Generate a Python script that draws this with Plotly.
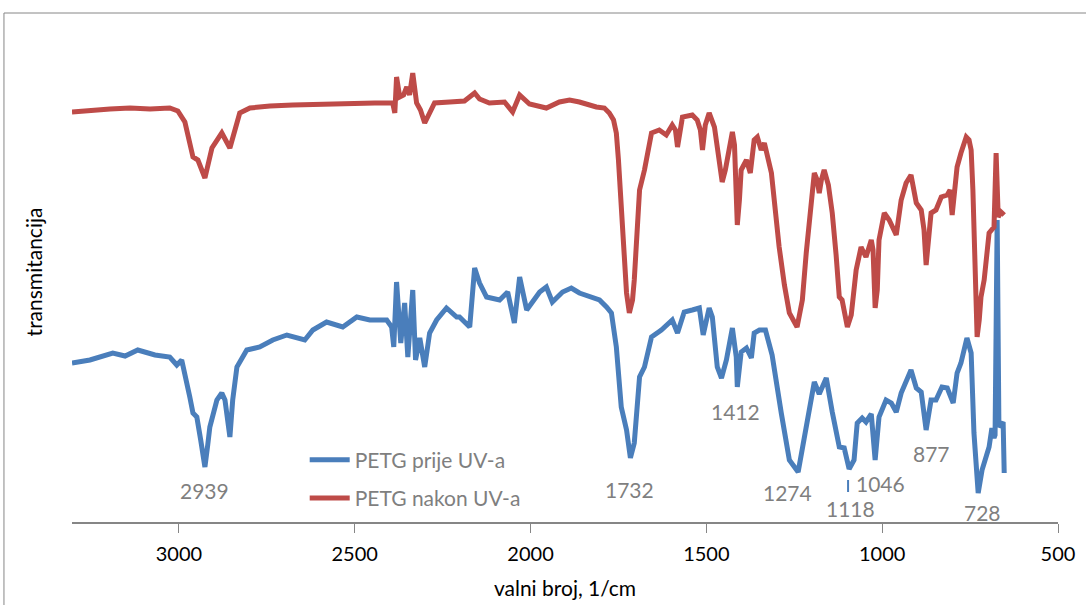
import plotly.graph_objects as go

# ---------------- data (wavenumber 1/cm, transmittance in arbitrary units) ----------------
red_wn = [3304, 3253, 3196, 3139, 3082, 3026, 3003, 2983, 2960, 2946, 2926, 2906, 2878, 2855, 2827,
          2798, 2741, 2676, 2599, 2514, 2443, 2392, 2386, 2381, 2372, 2361, 2352, 2344, 2335, 2324,
          2313, 2301, 2287, 2273, 2230, 2188, 2159, 2145, 2117, 2074, 2051, 2031, 2003, 1955, 1918,
          1889, 1861, 1813, 1790, 1776, 1764, 1756, 1750, 1742, 1733, 1727, 1719, 1710, 1705, 1696,
          1690, 1676, 1656, 1634, 1614, 1597, 1588, 1582, 1574, 1568, 1540, 1526, 1517, 1511, 1503,
          1492, 1477, 1463, 1455, 1446, 1435, 1426, 1420, 1415, 1412, 1406, 1401, 1386, 1375, 1364,
          1355, 1344, 1335, 1315, 1293, 1278, 1264, 1242, 1227, 1216, 1202, 1193, 1185, 1179, 1173,
          1165, 1153, 1142, 1131, 1122, 1114, 1099, 1088, 1074, 1060, 1046, 1031, 1026, 1020, 1014,
          1009, 994, 980, 960, 946, 932, 918, 903, 889, 881, 875, 869, 861, 847, 832,
          815, 807, 801, 793, 787, 776, 761, 753, 747, 742, 739, 733, 730, 724, 719,
          710, 696, 682, 676, 670, 662, 653]
red_t = [82.0, 82.4, 82.6, 82.8, 82.6, 82.8, 82.2, 80.0, 73.0, 72.4, 68.8, 74.8, 77.8, 74.8, 81.8,
         82.8, 83.2, 83.4, 83.6, 83.8, 83.8, 83.8, 81.8, 89.0, 85.0, 85.4, 87.0, 85.4, 89.8, 83.8,
         82.4, 79.8, 82.0, 83.8, 84.0, 84.2, 85.8, 84.6, 83.8, 84.0, 82.0, 85.4, 83.6, 82.8, 84.0,
         84.4, 84.0, 83.0, 82.8, 81.8, 80.4, 77.8, 72.4, 62.4, 52.4, 45.8, 41.8, 44.4, 48.4, 58.4,
         66.4, 70.4, 77.8, 78.4, 77.4, 79.4, 78.4, 75.0, 79.4, 81.0, 81.4, 80.4, 78.4, 74.4, 79.4,
         81.8, 79.0, 71.8, 68.0, 70.4, 74.4, 78.0, 75.4, 68.4, 59.4, 64.4, 70.4, 72.4, 69.8, 76.4,
         77.0, 74.4, 75.8, 69.8, 55.0, 47.4, 41.8, 39.0, 44.4, 53.8, 63.4, 69.8, 68.4, 65.8, 68.4,
         70.4, 67.4, 61.8, 53.4, 45.0, 44.4, 39.0, 41.4, 50.4, 55.0, 53.0, 56.4, 54.4, 42.8, 46.4,
         56.4, 61.8, 60.4, 57.4, 64.4, 67.8, 69.4, 63.8, 62.4, 58.4, 51.4, 56.4, 61.8, 62.4, 65.0,
         65.4, 66.4, 61.4, 67.4, 71.0, 73.8, 77.0, 76.4, 74.4, 66.4, 57.8, 44.4, 37.0, 40.4, 45.0,
         48.4, 57.8, 59.0, 73.8, 61.0, 62.0, 61.4]

blue_wn = [3304, 3253, 3188, 3153, 3117, 3068, 3026, 3006, 2992, 2983, 2969, 2960, 2949, 2938, 2926,
           2918, 2912, 2892, 2878, 2869, 2855, 2847, 2835, 2807, 2770, 2733, 2693, 2642, 2619, 2580,
           2534, 2494, 2457, 2409, 2395, 2389, 2381, 2369, 2358, 2349, 2335, 2327, 2315, 2301, 2287,
           2267, 2239, 2210, 2202, 2173, 2159, 2145, 2125, 2088, 2065, 2046, 2031, 2011, 1974, 1955,
           1938, 1909, 1884, 1861, 1832, 1804, 1784, 1770, 1756, 1742, 1727, 1716, 1705, 1690, 1676,
           1656, 1628, 1597, 1582, 1563, 1540, 1520, 1509, 1492, 1483, 1469, 1457, 1443, 1426, 1415,
           1412, 1401, 1386, 1372, 1364, 1349, 1332, 1313, 1287, 1264, 1239, 1216, 1193, 1179, 1159,
           1142, 1122, 1108, 1094, 1080, 1071, 1057, 1046, 1031, 1020, 1009, 989, 974, 960, 946,
           918, 903, 889, 875, 861, 847, 830, 815, 798, 787, 776, 759, 747, 739, 727,
           716, 696, 688, 682, 679, 673, 668, 656, 653]
blue_t = [31.8, 32.4, 33.8, 33.2, 34.4, 33.4, 33.0, 31.4, 32.4, 29.8, 25.0, 21.8, 21.0, 16.4, 11.0,
          15.4, 19.0, 24.4, 25.8, 24.4, 17.0, 24.4, 31.0, 34.4, 35.0, 36.4, 37.4, 36.4, 38.4, 40.0,
          39.0, 41.0, 40.4, 40.4, 39.0, 35.0, 48.0, 35.8, 43.8, 33.0, 46.4, 32.4, 36.8, 31.0, 37.8,
          40.4, 42.8, 41.0, 41.0, 39.0, 50.8, 47.8, 45.0, 44.4, 46.0, 39.8, 49.0, 42.4, 46.0, 47.0,
          44.0, 46.0, 46.8, 45.8, 45.0, 44.4, 43.0, 41.8, 35.0, 23.0, 18.4, 12.8, 15.8, 29.0, 31.0,
          37.0, 38.4, 40.4, 37.8, 42.0, 42.4, 42.8, 37.4, 42.8, 41.0, 31.0, 28.8, 32.4, 38.8, 33.0,
          27.0, 34.0, 34.8, 32.8, 37.8, 38.4, 38.4, 33.4, 21.8, 12.4, 10.0, 18.8, 28.0, 25.6, 28.8,
          22.0, 15.0, 14.8, 10.6, 12.4, 19.8, 20.8, 20.0, 21.6, 12.4, 21.0, 24.4, 23.8, 22.0, 25.8,
          30.4, 26.8, 26.0, 18.4, 24.4, 24.4, 27.0, 26.8, 23.8, 29.8, 31.8, 36.8, 33.8, 17.8, 5.8,
          10.4, 15.0, 18.8, 16.8, 17.4, 60.4, 19.0, 20.0, 9.8]

series_names = ["PETG prije UV-a", "PETG nakon UV-a"]
series_colors = ["#4A7EBB", "#BE4B48"]

peak_labels = ["2939", "1732", "1412", "1274", "1118", "1046", "877", "728"]
peak_label_x = [2926, 1719, 1418, 1270, 1091, 1006, 861, 716]
peak_label_y = [6.4, 6.6, 22.2, 6.0, 2.8, 7.8, 13.8, 2.0]

x_ticks = [3000, 2500, 2000, 1500, 1000, 500]

FONT = "Lato, 'Open Sans', sans-serif"

fig = go.Figure()
fig.add_trace(go.Scatter(x=blue_wn, y=blue_t, mode="lines", name=series_names[0],
                         line=dict(color=series_colors[0], width=5), legendgroup="a"))
fig.add_trace(go.Scatter(x=red_wn, y=red_t, mode="lines", name=series_names[1],
                         line=dict(color=series_colors[1], width=5), legendgroup="b"))

for txt, lx, ly in zip(peak_labels, peak_label_x, peak_label_y):
    fig.add_annotation(x=lx, y=ly, text=txt, showarrow=False, xref="x", yref="y",
                       font=dict(family=FONT, size=21, color="#7F7F7F"))

# leader line for 1118 label
fig.add_shape(type="line", x0=1097, x1=1097, y0=6.0, y1=8.4, xref="x", yref="y",
              line=dict(color=series_colors[0], width=2))

# outer chart border
fig.add_shape(type="rect", xref="paper", yref="paper", x0=-0.069, x1=1.04, y0=-0.2, y1=1.018,
              line=dict(color="#868686", width=1), fillcolor="rgba(0,0,0,0)", layer="below")

fig.update_layout(
    width=1086, height=605,
    margin=dict(l=72, r=28, t=22, b=83),
    paper_bgcolor="white", plot_bgcolor="white",
    font=dict(family=FONT, size=20, color="black"),
    showlegend=True,
    legend=dict(x=0.236, y=0.165, xanchor="left", yanchor="top",
                font=dict(family=FONT, size=21, color="#7F7F7F"),
                bgcolor="rgba(0,0,0,0)", tracegroupgap=8, itemwidth=40),
    xaxis=dict(range=[3304, 500], tickvals=x_ticks, ticks="outside", ticklen=9,
               tickcolor="#868686", showline=True, linecolor="#868686", linewidth=1.5,
               showgrid=False, zeroline=False, ticklabelstandoff=4, automargin=False,
               tickfont=dict(family=FONT, size=20, color="black"),
               title=dict(text="valni broj, 1/cm", font=dict(family=FONT, size=21, color="black"),
                          standoff=18)),
    yaxis=dict(range=[0, 100], showticklabels=False, showgrid=False, zeroline=False,
               showline=False, ticks="", automargin=False,
               title=dict(text="transmitancija", font=dict(family=FONT, size=21, color="black"),
                          standoff=22)),
)

fig.write_html("out.html")
